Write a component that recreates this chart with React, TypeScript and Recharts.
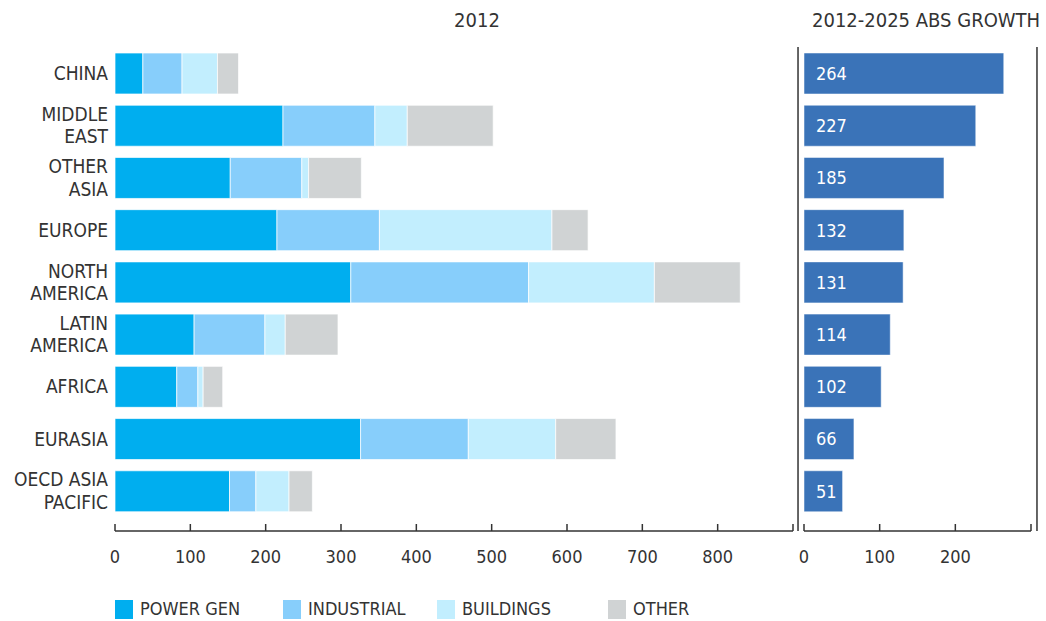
import { BarChart, Bar, XAxis, YAxis, LabelList, ReferenceLine } from 'recharts';

const regions = [
  'CHINA',
  'MIDDLE\nEAST',
  'OTHER\nASIA',
  'EUROPE',
  'NORTH\nAMERICA',
  'LATIN\nAMERICA',
  'AFRICA',
  'EURASIA',
  'OECD ASIA\nPACIFIC',
];
const powerGen = [37, 223, 153, 215, 313, 105, 82, 326, 152];
const industrial = [52, 122, 95, 136, 236, 94, 28, 143, 35];
const buildings = [47, 43, 9, 229, 167, 27, 7, 116, 44];
const other = [28, 114, 70, 48, 114, 70, 26, 80, 31];
const growth = [264, 227, 185, 132, 131, 114, 102, 66, 51];

const levelTicks = [0, 100, 200, 300, 400, 500, 600, 700, 800, 900];
const growthTicks = [0, 100, 200, 300];

const series = [
  { key: 'powerGen', name: 'POWER GEN', color: '#00AEEF' },
  { key: 'industrial', name: 'INDUSTRIAL', color: '#87CEFB' },
  { key: 'buildings', name: 'BUILDINGS', color: '#C2EEFE' },
  { key: 'other', name: 'OTHER', color: '#D0D3D4' },
];

const data = regions.map((region, i) => ({
  region,
  powerGen: powerGen[i],
  industrial: industrial[i],
  buildings: buildings[i],
  other: other[i],
  growth: growth[i],
}));

const FONT = "'DejaVu Sans Condensed', 'Roboto', sans-serif";
const TEXT = '#333333';
const AXIS = '#333333';

function RegionTick({ x, y, payload }: any) {
  const lines = String(payload.value).split('\n');
  const lh = 22.5;
  const y0 = y - ((lines.length - 1) * lh) / 2;
  return (
    <text x={x} y={y0} textAnchor="end" fill={TEXT} fontSize={19} fontFamily={FONT}>
      {lines.map((l, i) => (
        <tspan key={i} x={x} y={y0 + i * lh} dy="0.36em">
          {l}
        </tspan>
      ))}
    </text>
  );
}

function makeValueTick(hidden: number) {
  return ({ x, y, payload }: any) => (
    <g>
      <line x1={x} x2={x} y1={y - 7} y2={y} stroke={AXIS} strokeWidth={1.5} />
      {payload.value !== hidden && (
        <text x={x} y={y + 26} dy="0.36em" textAnchor="middle" fill={TEXT} fontSize={18} fontFamily={FONT}>
          {payload.value}
        </text>
      )}
    </g>
  );
}

const legendLeft = [115, 283, 437, 608];

export default function App() {
  return (
    <div
      style={{
        position: 'absolute',
        left: 0,
        top: 0,
        width: 1046,
        height: 621,
        background: '#fff',
        overflow: 'hidden',
        fontFamily: FONT,
        color: TEXT,
      }}
    >
      <div style={{ position: 'absolute', left: 377, width: 200, top: 9, lineHeight: '22px', fontSize: 20, textAlign: 'center' }}>
        2012
      </div>
      <div style={{ position: 'absolute', left: 812, top: 9, lineHeight: '22px', fontSize: 20, whiteSpace: 'nowrap' }}>
        2012-2025 ABS GROWTH
      </div>

      <div style={{ position: 'absolute', left: 0, top: 0 }}>
        <BarChart
          width={800}
          height={580}
          data={data}
          layout="vertical"
          margin={{ top: 47, right: 7, bottom: 0, left: 0 }}
        >
          <XAxis
            type="number"
            domain={[0, 900]}
            ticks={levelTicks}
            interval={0}
            height={49}
            tickSize={0}
            tickMargin={0}
            tickLine={false}
            axisLine={{ stroke: AXIS, strokeWidth: 1.5 }}
            tick={makeValueTick(900)}
          />
          <YAxis
            type="category"
            dataKey="region"
            width={115}
            axisLine={false}
            tickLine={false}
            tickSize={0}
            tickMargin={7}
            interval={0}
            padding={{ top: 0, bottom: 14 }}
            tick={<RegionTick />}
          />
          {series.map((s) => (
            <Bar
              key={s.key}
              dataKey={s.key}
              name={s.name}
              stackId="a"
              fill={s.color}
              stroke="#ffffff"
              strokeOpacity={0.7}
              strokeWidth={1}
              barSize={41}
              isAnimationActive={false}
            />
          ))}
        </BarChart>
      </div>

      <div style={{ position: 'absolute', left: 790, top: 0 }}>
        <BarChart
          width={256}
          height={580}
          data={data}
          layout="vertical"
          margin={{ top: 47, right: 15, bottom: 0, left: 14 }}
        >
          <XAxis
            type="number"
            domain={[0, 300]}
            ticks={growthTicks}
            interval={0}
            height={49}
            tickSize={0}
            tickMargin={0}
            tickLine={false}
            axisLine={{ stroke: AXIS, strokeWidth: 1.5 }}
            tick={makeValueTick(300)}
          />
          <YAxis type="category" dataKey="region" hide width={0} padding={{ top: 0, bottom: 14 }} />
          <ReferenceLine x={-7.9} ifOverflow="visible" stroke={AXIS} strokeWidth={1.5} />
          <ReferenceLine x={307.9} ifOverflow="visible" stroke={AXIS} strokeWidth={1.5} />
          <Bar
            dataKey="growth"
            fill="#3A73B8"
            stroke="#ffffff"
            strokeOpacity={0.5}
            strokeWidth={1}
            barSize={41}
            isAnimationActive={false}
          >
            <LabelList
              dataKey="growth"
              position="insideLeft"
              offset={12}
              fill="#ffffff"
              fontSize={18}
              fontFamily={FONT}
            />
          </Bar>
        </BarChart>
      </div>

      {series.map((s, i) => (
        <div
          key={s.key}
          style={{ position: 'absolute', left: legendLeft[i], top: 599, height: 20, display: 'flex', alignItems: 'center' }}
        >
          <span style={{ width: 18, height: 19, background: s.color, display: 'inline-block', marginRight: 7 }} />
          <span style={{ fontSize: 18, lineHeight: '20px', whiteSpace: 'nowrap' }}>{s.name}</span>
        </div>
      ))}
    </div>
  );
}
